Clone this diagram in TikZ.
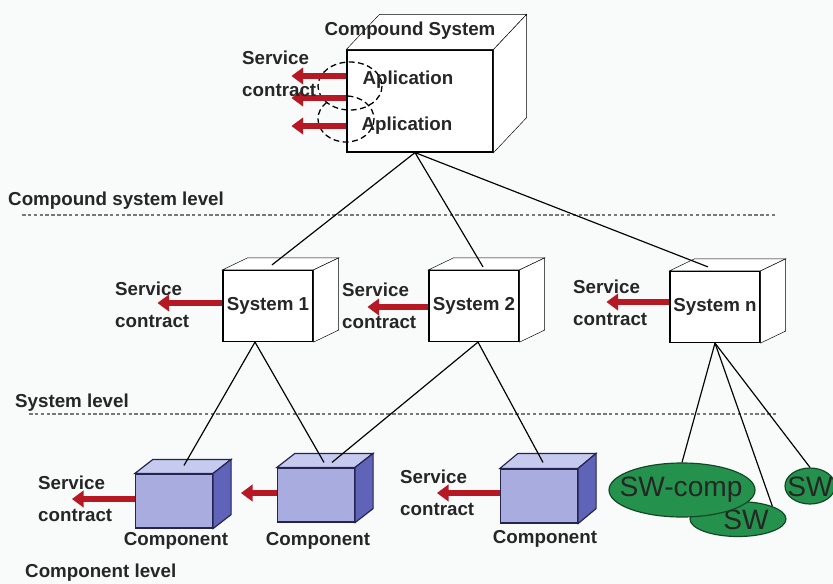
\documentclass[tikz,border=0pt]{standalone}
\usepackage{fontspec}
\setmainfont{Liberation Sans}
\usetikzlibrary{calc,arrows.meta,shapes.geometric}

\definecolor{paper}{RGB}{249,250,250}
\definecolor{contractred}{RGB}{182,24,36}
\definecolor{compfront}{RGB}{168,172,222}
\definecolor{comptop}{RGB}{198,202,238}
\definecolor{compside}{RGB}{96,100,184}
\definecolor{compline}{RGB}{36,36,80}
\definecolor{swgreen}{RGB}{36,146,76}
\definecolor{swline}{RGB}{18,70,38}
\definecolor{levelgray}{RGB}{120,120,120}

% back faces of a box drawn as node: node, dx, dy, top fill, side fill
\newcommand{\boxback}[5]{%
  \filldraw[fill=#4] (#1.north west) -- ++(#2,#3) -- ($(#1.north east)+(#2,#3)$) -- (#1.north east) -- cycle;
  \filldraw[fill=#5] (#1.north east) -- ($(#1.north east)+(#2,#3)$) -- ($(#1.south east)+(#2,#3)$) -- (#1.south east) -- cycle;
}

\tikzset{
  lbl/.style={font=\bfseries\fontsize{16}{19}\selectfont, text=black!85, inner sep=0pt},
  sc/.style={lbl, align=left, anchor=west, font=\bfseries\fontsize{16}{27}\selectfont},
  contract/.style={line width=5.5pt, contractred, -{Triangle[length=10pt,width=14pt]}},
  sysbox/.style={draw, line width=1pt, fill=white, minimum width=2.7cm, minimum height=2.13cm, inner sep=0pt, lbl},
  compbox/.style={draw=compline, line width=1pt, fill=compfront, minimum width=2.31cm, minimum height=1.62cm, inner sep=0pt},
  sw/.style={ellipse, draw=swline, line width=1pt, fill=swgreen, inner sep=0pt},
  swtext/.style={inner sep=0pt, text=black!85, font=\fontsize{24}{26}\selectfont},
  level/.style={levelgray, line width=1.4pt, densely dashed},
  link/.style={line width=1pt},
  ring/.style={dash pattern=on 5pt off 3pt, line width=1.1pt},
}

\begin{document}
\begin{tikzpicture}[x=0.03cm, y=-0.03cm]
	\fill[paper] (0,0) rectangle (833,584);
	\useasboundingbox (0,0) rectangle (833,584);

	% levels
	\node[lbl, anchor=west] (lvcs) at (8,201) {Compound system level};
	\node[lbl, anchor=west] (lvs) at (15,403) {System level};
	\node[lbl, anchor=west] (lvc) at (25,573) {Component level};
	\draw[level] (22,215) -- (777,215);
	\draw[level] (29,414) -- (778,414);

	% compound system
	\node[sysbox, minimum width=4.38cm, minimum height=3.06cm] (cs) at (420,101) {};
	\boxback{cs}{33}{-35}{white}{white}
	\node[lbl] (cstitle) at (410,31) {Compound System};
	\node[lbl] (app1) at (408,80) {Aplication};
	\node[lbl] (app2) at (407,126) {Aplication};
	\draw[ring] (350,86) ellipse [x radius=32, y radius=24];
	\draw[ring] (346,119) ellipse [x radius=28, y radius=23];
	\draw[contract] ($(cs.west)+(0,-25)$) -- ++(-55,0);
	\draw[contract] ($(cs.west)+(0,-3)$) -- ++(-55,0);
	\draw[contract] ($(cs.west)+(0,25)$) -- ++(-55,0);
	\node[sc] (sc0) at (242,74) {Service\\contract};

	% systems
	\node[sysbox] (s1) at (268,306) {System 1};
	\node[sysbox] (s2) at (474,306) {System 2};
	\node[sysbox] (sn) at (715,307) {System n};
	\foreach \s in {s1,s2,sn} {
		\boxback{\s}{25}{-12}{white}{white}
	}
	\draw[contract] ($(s1.west)+(0,-3)$) -- ++(-65,0);
	\draw[contract] ($(s2.west)+(0,1)$) -- ++(-61,0);
	\draw[contract] ($(sn.west)+(0,-5)$) -- ++(-63,0);
	\node[sc] (sc1) at (115,305) {Service\\contract};
	\node[sc] (sc2) at (342,306) {Service\\contract};
	\node[sc] (scn) at (573,303) {Service\\contract};

	% components
	\node[compbox] (c1) at (174,501) {};
	\node[compbox] (c2) at (316,495) {};
	\node[compbox] (c3) at (539,496) {};
	\begin{scope}[draw=compline, line width=1pt]
		\boxback{c1}{18}{-14}{comptop}{compside}
		\boxback{c2}{18}{-14}{comptop}{compside}
		\boxback{c3}{18}{-15}{comptop}{compside}
	\end{scope}
	\node[lbl] (c1l) at (176,541) {Component};
	\node[lbl] (c2l) at (318,541) {Component};
	\node[lbl] (c3l) at (545,539) {Component};
	\draw[contract] ($(c1.west)+(0,-2)$) -- ++(-63,0);
	\draw[contract] ($(c2.west)+(0,-2)$) -- ++(-36,0);
	\draw[contract] ($(c3.west)+(0,-3)$) -- ++(-63,0);
	\node[sc] (scc1) at (38,499) {Service\\contract};
	\node[sc] (scc3) at (400,493) {Service\\contract};

	% software parts
	\node[sw, minimum width=2.88cm, minimum height=1.05cm] (sw1) at (738,519) {};
	\node[swtext] (sw1t) at (746,520) {SW};
	\node[sw, minimum width=4.38cm, minimum height=1.62cm] (swc) at (682,490) {};
	\node[swtext] (swct) at (681,490) {SW-comp};
	\node[sw, minimum width=1.5cm, minimum height=1.08cm] (sw2) at (810,486) {};
	\node[swtext] (sw2t) at (810,487) {SW};

	% links
	\coordinate (csb) at ($(cs.south)+(-5,0)$);
	\draw[link] (csb) -- ($(s1.north)+(4,-5)$);
	\draw[link] (csb) -- ($(s2.north)+(9,-3)$);
	\draw[link] (csb) -- ($(sn.north)+(-7,-4)$);
	\draw[link] ($(s1.south)+(-13,0)$) -- ($(c1.north)+(10,-8)$);
	\draw[link] ($(s1.south)+(-13,0)$) -- ($(c2.north)+(8,-5)$);
	\draw[link] ($(s2.south)+(4,0)$) -- ($(c2.north)+(16,-5)$);
	\draw[link] ($(s2.south)+(4,0)$) -- ($(c3.north)+(4,-6)$);
	\draw[link] (sn.south) -- (swc.north);
	\draw[link] (sn.south) -- (sw1.north east);
	\draw[link] (sn.south) -- (sw2.north);
\end{tikzpicture}
\end{document}
